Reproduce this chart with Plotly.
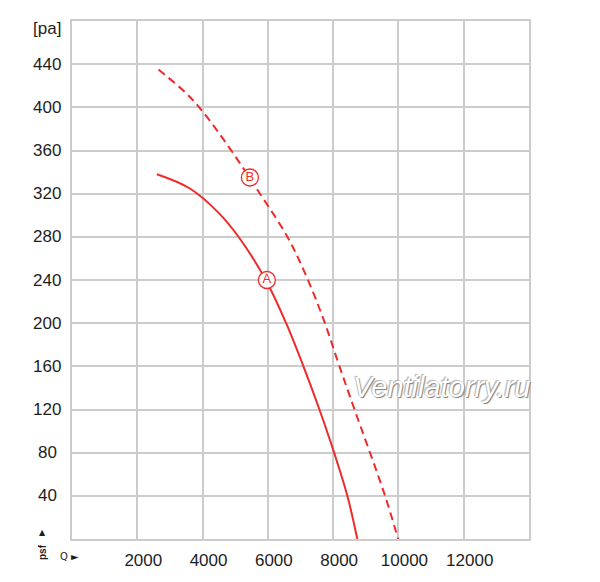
import plotly.graph_objects as go

# curve A (solid) and curve B (dashed)
q_a = [2600, 3600, 4500, 5150, 5970, 6560, 7090, 7580, 8030, 8435, 8740]
p_a = [338, 325, 302, 278, 238, 200, 160, 120, 80, 40, 0]

q_b = [2650, 3500, 3950, 4530, 5150, 5650, 6580, 7100, 7700, 8160, 8620, 9590, 9990]
p_b = [435, 413, 398, 375, 348, 325, 281, 249, 204, 163, 123, 40, 0]

# circled curve labels
label_q = [5970, 5450]
label_p = [240, 335]
label_txt = ["A", "B"]

x_ticks = [2000, 4000, 6000, 8000, 10000, 12000]
y_ticks = [40, 80, 120, 160, 200, 240, 280, 320, 360, 400, 440]

red = "#ee2a2a"
grid = "#cccccc"
txt = "#1e1e1e"
font_main = "Liberation Sans"

fig = go.Figure()
fig.add_trace(go.Scatter(x=q_a, y=p_a, mode="lines", line=dict(color=red, width=2, shape="spline"),
                         hoverinfo="skip"))
fig.add_trace(go.Scatter(x=q_b, y=p_b, mode="lines",
                         line=dict(color=red, width=2, dash="8px,5px", shape="spline"),
                         hoverinfo="skip"))
fig.add_trace(go.Scatter(x=label_q, y=label_p, mode="markers+text", text=label_txt,
                         textposition="middle center",
                         textfont=dict(color=red, size=13, family=font_main),
                         marker=dict(size=17, color="white", line=dict(color=red, width=1.3)),
                         hoverinfo="skip"))

# y tick labels are centred in the reference, so put them in as annotations
for v in y_ticks:
    fig.add_annotation(x=-0.0547, xref="paper", y=v, yref="y", text=str(v), showarrow=False,
                       xanchor="center", yanchor="middle",
                       font=dict(size=17, color=txt, family=font_main))

fig.add_annotation(x=-0.0547, xref="paper", y=480, yref="y", text="[pa]", showarrow=False,
                   xanchor="center", yanchor="middle", yshift=-7,
                   font=dict(size=17, color=txt, family=font_main))
fig.add_annotation(x=14520, xref="x", y=0, yref="paper", text="[m³/h]", showarrow=False,
                   xanchor="center", yanchor="middle", yshift=-15,
                   font=dict(size=17, color=txt, family=font_main))

# small axis symbols bottom left
fig.add_annotation(x=-0.0656, xref="paper", y=0, yref="paper", text="▲", showarrow=False,
                   xanchor="center", yanchor="middle", yshift=7,
                   font=dict(size=8, color=txt, family="DejaVu Sans"))
fig.add_annotation(x=-0.0656, xref="paper", y=0, yref="paper", text="<b>psf</b>", showarrow=False,
                   textangle=-90, xanchor="center", yanchor="middle", yshift=-13,
                   font=dict(size=10, color=txt, family=font_main))
fig.add_annotation(x=-0.0044, xref="paper", y=0, yref="paper", text="Q ►", showarrow=False,
                   xanchor="center", yanchor="middle", yshift=-17,
                   font=dict(size=10, color=txt, family="DejaVu Sans"))

# watermark
fig.add_annotation(x=11315, xref="x", y=141, yref="y", text="<i>Ventilatorry.ru</i>", showarrow=False,
                   font=dict(size=29, color="#ffffff", family=font_main,
                             shadow="1px 1px 1px #7a7a7a, -1px -1px 1px #b0b0b0"))

fig.update_layout(
    width=600, height=582,
    margin=dict(l=72, r=71, t=21, b=41),
    paper_bgcolor="white", plot_bgcolor="white",
    showlegend=False,
    xaxis=dict(range=[0, 14000], tickvals=x_ticks, ticktext=[str(v) for v in x_ticks],
               showgrid=True, gridcolor=grid, gridwidth=1.5, zeroline=False,
               showline=True, linecolor=grid, linewidth=1.5, mirror=True,
               ticks="", ticklabelstandoff=5, ticklabelshift=6,
               tickfont=dict(size=17, color=txt, family=font_main), fixedrange=True),
    yaxis=dict(range=[0, 480], tickvals=y_ticks, showticklabels=False,
               showgrid=True, gridcolor=grid, gridwidth=1.5, zeroline=False,
               showline=True, linecolor=grid, linewidth=1.5, mirror=True,
               ticks="", fixedrange=True),
)

fig.write_html("out.html", config={"displayModeBar": False},
               post_script="document.body.style.margin='0';")
